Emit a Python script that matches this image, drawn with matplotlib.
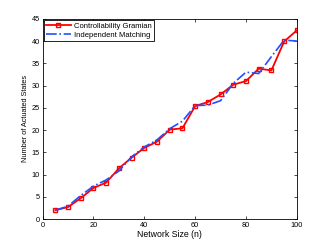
import numpy as np
import matplotlib
matplotlib.use('Agg')
from matplotlib import pyplot as plt

plt.rcParams['font.family'] = ['Liberation Sans', 'DejaVu Sans']

network_size = [5, 10, 15, 20, 25, 30, 35, 40, 45, 50,
                55, 60, 65, 70, 75, 80, 85, 90, 95, 100]
gramian = [2.0, 2.7, 4.7, 7.0, 8.2, 11.4, 13.8, 16.0, 17.4, 20.1,
           20.4, 25.4, 26.3, 28.0, 30.2, 31.0, 33.8, 33.4, 39.9, 42.4]
matching = [2.0, 2.9, 5.3, 7.4, 8.8, 10.8, 14.0, 16.2, 17.8, 20.3,
            22.0, 25.5, 25.6, 26.6, 30.5, 33.0, 32.7, 36.5, 40.2, 40.0]

fig = plt.figure(figsize=(3.28, 2.47), dpi=100)
ax = fig.add_axes([0.130, 0.113, 0.775, 0.811])

ax.plot(network_size, gramian, '-s', color='red', linewidth=1.3,
        markersize=3.5, markerfacecolor='none', markeredgewidth=1.0,
        label='Controllability Gramian')
ax.plot(network_size, matching, '-.', color='#2050ff', linewidth=1.2,
        label='Independent Matching')

ax.set_xlim(0, 100)
ax.set_ylim(0, 45)
ax.set_xticks(np.arange(0, 101, 20))
ax.set_yticks(np.arange(0, 46, 5))
ax.tick_params(direction='in', length=2.5, width=0.5, labelsize=5.3,
               top=True, right=True, pad=2)
for s in ax.spines.values():
    s.set_linewidth(0.6)

ax.set_xlabel('Network Size (n)', fontsize=6.3, labelpad=1)
ax.set_ylabel('Number of Actuated States', fontsize=5.3, labelpad=2)

leg = ax.legend(loc='upper left', fontsize=5.5, fancybox=False, framealpha=1,
                edgecolor='black', borderaxespad=0.15, borderpad=0.3,
                handlelength=3.2, handletextpad=0.4, labelspacing=0.25)
leg.get_frame().set_linewidth(0.6)

fig.savefig('out.png', dpi=100)
